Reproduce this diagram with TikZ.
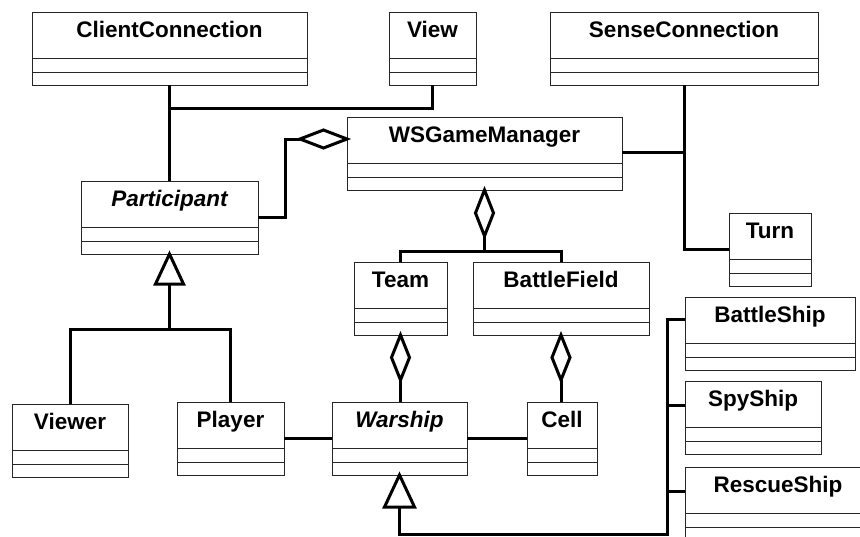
\documentclass[tikz,border=0pt]{standalone}
\usepackage{fontspec}
\setmainfont{Liberation Sans}
\usetikzlibrary{calc}
\tikzset{
  clsbox/.style={draw=black!85, line width=1pt, anchor=north west, minimum height=73pt, inner sep=0pt, outer sep=0pt, fill=white},
  clsline/.style={draw=black!85, line width=1pt},
  clsname/.style={anchor=base, inner sep=0pt, font=\fontsize{22.5}{27}\selectfont\bfseries},
  conn/.style={line width=3pt, black},
  hollow/.style={line width=3pt, black, fill=white, line join=miter},
}
\newcommand{\umlcls}[5]{%
  \node[clsbox, minimum width=#4pt] (#1) at (#2,#3) {};
  \draw[clsline] ($(#1.north west)+(0,46)$) -- ($(#1.north east)+(0,46)$);
  \draw[clsline] ($(#1.north west)+(0,60)$) -- ($(#1.north east)+(0,60)$);
  \node[clsname] (#1-name) at ([yshift=-25pt]#1.north) {#5};
}
\begin{document}
\begin{tikzpicture}[x=1pt, y=-1pt]
\clip (0,0) rectangle (860,536);
\fill[white] (0,0) rectangle (860,536);

% classes
\umlcls{cc}{32}{12}{275}{ClientConnection}
\umlcls{view}{389}{12}{87}{View}
\umlcls{sense}{550}{12}{268}{SenseConnection}
\umlcls{part}{81}{181}{177}{\itshape Participant}
\umlcls{wsg}{347}{117}{275}{WSGameManager}
\umlcls{turn}{729}{213}{82}{Turn}
\umlcls{team}{354}{262}{93}{Team}
\umlcls{bf}{473}{262}{176}{BattleField}
\umlcls{viewer}{12}{404}{116}{Viewer}
\umlcls{player}{177}{402}{107}{Player}
\umlcls{warship}{332}{402}{135}{\itshape Warship}
\umlcls{cell}{527}{402}{70}{Cell}
\umlcls{bship}{685}{297}{170}{BattleShip}
\umlcls{spy}{685}{381}{136}{SpyShip}
\umlcls{rescue}{685}{467}{186}{RescueShip}

% ClientConnection - View - Participant
\draw[conn] (cc.south) -- (part.north);
\draw[conn] ($(cc.south)+(0,23)$) -| (view.south);

% Participant -> WSGameManager (aggregation)
\coordinate (a1tip) at ($(wsg.north west)+(0,22)$);
\coordinate (a1tail) at ($(a1tip)+(-47,0)$);
\draw[conn] ($(part.north east)+(0,36)$) -- ++(27,0) |- (a1tail);
\draw[hollow] (a1tip) -- ++(-23.5,-9) -- (a1tail) -- ++(23.5,9) -- cycle;

% WSGameManager - SenseConnection - Turn
\coordinate (w1) at ($(wsg.north east)+(0,35)$);
\draw[conn] (w1) -- (w1 -| sense.south);
\draw[conn] (sense.south) |- (turn.west);

% WSGameManager aggregation -> Team, BattleField
\coordinate (a2tail) at ($(wsg.south)+(0,46)$);
\coordinate (j2) at ($(a2tail)+(0,15)$);
\draw[conn] (a2tail) -- (j2);
\draw[conn] (team.north) |- (j2) -| (bf.north);
\draw[hollow] (wsg.south) -- ++(9,23) -- (a2tail) -- ++(-9,-23) -- cycle;

% Team aggregation -> Warship
\coordinate (a3tail) at ($(team.south)+(0,45)$);
\draw[conn] (a3tail) -- (a3tail |- warship.north);
\draw[hollow] (team.south) -- ++(9,22.5) -- (a3tail) -- ++(-9,-22.5) -- cycle;

% BattleField aggregation -> Cell
\coordinate (a4tail) at ($(bf.south)+(0,45)$);
\draw[conn] (a4tail) -- (a4tail |- cell.north);
\draw[hollow] (bf.south) -- ++(9,22.5) -- (a4tail) -- ++(-9,-22.5) -- cycle;

% associations
\draw[conn] (player.east) -- (warship.west);
\draw[conn] (warship.east) -- (cell.west);

% Participant generalization
\coordinate (g1base) at ($(part.south)+(0,30)$);
\coordinate (j1) at ($(g1base)+(0,45)$);
\draw[conn] (g1base) -- (j1);
\draw[conn] (viewer.north) |- (j1) -| (player.north);
\draw[hollow] (part.south) -- ($(g1base)+(14,0)$) -- ($(g1base)+(-14,0)$) -- cycle;

% Warship generalization
\coordinate (g2base) at ($(warship.south)+(0,32)$);
\coordinate (j3) at ($(g2base)+(0,27)$);
\coordinate (b1) at ($(bship.north west)+(0,22)$);
\coordinate (b2) at ($(spy.north west)+(0,24)$);
\coordinate (b3) at ($(rescue.north west)+(0,24)$);
\coordinate (trunk) at ($(b1)+(-18,0)$);
\draw[conn] (g2base) -- (j3) -| (trunk) -- (b1);
\draw[conn] (b2 -| trunk) -- (b2);
\draw[conn] (b3 -| trunk) -- (b3);
\draw[hollow] (warship.south) -- ($(g2base)+(15,0)$) -- ($(g2base)+(-15,0)$) -- cycle;
\end{tikzpicture}
\end{document}
